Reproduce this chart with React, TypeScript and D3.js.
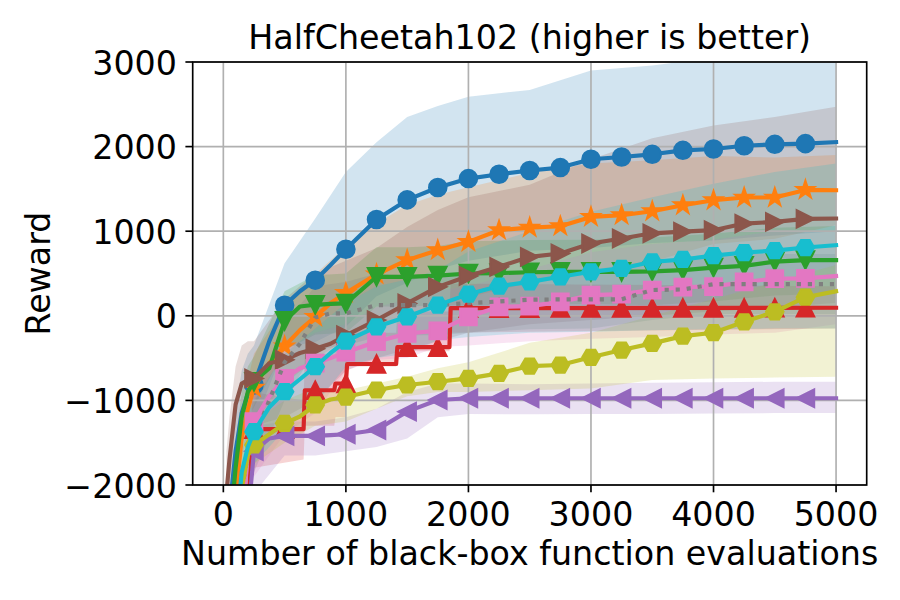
import React from 'react'
import * as d3 from 'd3'

// evaluation grid shared by most series
const evals = [25, 50, 100, 150, 200, 250, 375, 500, 625, 750, 875, 1000, 1250, 1500, 1750, 2000, 2250, 2500, 2750, 3000, 3250, 3500, 3750, 4000, 4250, 4500, 4750, 5000]

const blueMean = [-3000, -2300, -1600, -1150, -920, -818, -300, 125, 290, 421, 600, 787, 1138, 1370, 1516, 1622, 1673, 1718, 1752, 1850, 1877, 1909, 1956, 1972, 2010, 2027, 2035, 2053]
const orangeMean = [-3500, -3000, -2150, -1450, -1100, -850, -560, -360, -170, -12, 150, 270, 490, 658, 776, 874, 1012, 1043, 1059, 1169, 1189, 1236, 1307, 1366, 1398, 1398, 1488, 1484]
const greenMean = [-3200, -2600, -1800, -1200, -900, -780, -620, -60, 110, 130, 140, 146, 461, 461, 475, 500, 505, 515, 520, 520, 520, 525, 540, 570, 590, 640, 658, 658]
const purpleMean = [-4500, -4200, -3600, -3000, -2400, -1600, -1450, -1420, -1420, -1420, -1410, -1400, -1350, -1133, -995, -975, -975, -975, -975, -975, -975, -975, -975, -975, -975, -975, -975, -975]
const brownMean = [-2100, -1700, -1050, -800, -760, -740, -560, -520, -440, -390, -330, -230, -51, 146, 342, 470, 579, 697, 737, 855, 914, 975, 995, 1012, 1090, 1110, 1145, 1150]
const pinkMean = [-4000, -3600, -3000, -2500, -1600, -1250, -950, -740, -620, -560, -500, -430, -307, -208, -177, -12, 106, 114, 165, 244, 256, 303, 340, 345, 400, 440, 442, 470]
const grayMean = [-4000, -3600, -2800, -2050, -1650, -1450, -1000, -550, -330, -20, 28, 28, 126, 126, 126, 150, 170, 190, 194, 194, 194, 305, 311, 374, 374, 374, 374, 374]
const oliveMean = [-4000, -3600, -3000, -2050, -1650, -1527, -1400, -1271, -1190, -1054, -990, -960, -877, -818, -779, -740, -680, -594, -582, -491, -405, -326, -240, -200, -71, 47, 220, 290]
const cyanMean = [-3800, -3400, -2600, -1850, -1550, -1370, -1080, -897, -750, -602, -440, -300, -130, -12, 126, 256, 351, 401, 461, 520, 560, 638, 666, 712, 748, 770, 807, 835]

// red is a step curve, it gets its own grid
const redEvals = [180, 215, 240, 655, 665, 905, 915, 1000, 1010, 1410, 1420, 1845, 1855, 5000]
const redMean = [-2600, -2000, -1340, -1340, -880, -880, -800, -800, -570, -570, -370, -370, 90, 95]
const redLow = [-3300, -2700, -1800, -1700, -1300, -1300, -1200, -1200, -600, -600, -420, -420, -200, -150]
const redHigh = [-2000, -1500, -900, -1000, -450, -450, -400, -400, -200, -200, 50, 50, 380, 350]

// shaded bands
const bandEvals = [25, 50, 100, 150, 200, 250, 500, 750, 1000, 1250, 1500, 1750, 2000, 2500, 3000, 3500, 4000, 4500, 5000]
const blueLow = [-3200, -2800, -2100, -1650, -1390, -1290, -370, -310, -130, 230, 390, 550, 650, 770, 800, 860, 890, 950, 1000]
const blueHigh = [-2300, -1800, -1100, -650, -450, -350, 620, 1150, 1700, 2050, 2350, 2480, 2590, 2670, 2900, 2960, 3050, 3100, 3100]
const orangeLow = [-3800, -3300, -2500, -1750, -1450, -1250, -810, -510, -280, -110, 10, 130, 220, 390, 540, 640, 850, 910, 1070]
const orangeHigh = [-3000, -2600, -1800, -1150, -750, -450, 90, 490, 820, 1090, 1310, 1430, 1520, 1690, 1800, 1840, 1890, 1870, 1900]
const greenLow = [-3600, -2900, -2100, -1500, -1200, -1080, -410, -220, -200, 110, 110, 125, 120, 135, 140, 125, 170, 240, 260]
const greenHigh = [-2800, -2300, -1500, -900, -600, -480, 290, 480, 500, 810, 810, 825, 880, 895, 900, 925, 970, 1040, 1060]
const purpleLow = [-4800, -4500, -3900, -3300, -2700, -2100, -1650, -1650, -1600, -1550, -1450, -1200, -1160, -1165, -1160, -1160, -1155, -1150, -1150]
const purpleHigh = [-4200, -3800, -3200, -2600, -2000, -1300, -1250, -1250, -1200, -1100, -900, -800, -800, -810, -800, -790, -785, -780, -780]
const brownLow = [-2600, -2200, -1500, -1250, -1200, -1300, -1200, -1000, -650, -500, -400, -300, -200, -100, -50, 0, 50, 100, 150]
const brownHigh = [-1600, -1200, -600, -350, -300, -300, 200, 500, 650, 800, 1050, 1250, 1400, 1550, 1850, 2100, 2250, 2350, 2470]
const pinkLow = [-4400, -4000, -3400, -2900, -2000, -1900, -1400, -1150, -650, -520, -500, -370, -350, -300, -270, -250, -220, -200, -100]
const pinkHigh = [-3600, -3200, -2600, -2100, -1200, -900, -400, -200, -100, 100, 200, 300, 350, 550, 750, 850, 900, 1000, 1000]
const grayLow = [-4400, -4000, -3200, -2450, -2050, -1850, -1000, -400, -350, -250, -230, -230, -200, -160, -150, -50, 20, 20, 20]
const grayHigh = [-3600, -3200, -2400, -1650, -1250, -1050, -100, 350, 400, 500, 480, 480, 500, 540, 540, 650, 730, 730, 730]
const oliveLow = [-4400, -4000, -3400, -2450, -2050, -1750, -1500, -1300, -1250, -1100, -950, -900, -900, -880, -860, -760, -740, -730, -720]
const oliveHigh = [-3600, -3200, -2600, -1650, -1250, -1250, -1000, -850, -880, -800, -720, -620, -550, -320, -200, 0, 200, 400, 600]
const cyanLow = [-4200, -3800, -3000, -2250, -1950, -1750, -1350, -1050, -600, -500, -450, -290, -250, -200, -190, -170, -160, -150, -150]
const cyanHigh = [-3400, -3000, -2200, -1450, -1150, -1000, -450, -150, 150, 350, 430, 540, 760, 1000, 1230, 1400, 1560, 1700, 1800]

const markerEvals = [250, 500, 750, 1000, 1250, 1500, 1750, 2000, 2250, 2500, 2750, 3000, 3250, 3500, 3750, 4000, 4250, 4500, 4750]
const xTicks = [0, 1000, 2000, 3000, 4000, 5000]
const yTicks = [-2000, -1000, 0, 1000, 2000, 3000]

type Series = {
  color: string
  marker: string | null
  xs: number[]
  mean: number[]
  bx: number[]
  lo: number[]
  hi: number[]
  dotted?: boolean
}

const series: Series[] = [
  { color: '#1f77b4', marker: 'o', xs: evals, mean: blueMean, bx: bandEvals, lo: blueLow, hi: blueHigh },
  { color: '#ff7f0e', marker: '*', xs: evals, mean: orangeMean, bx: bandEvals, lo: orangeLow, hi: orangeHigh },
  { color: '#2ca02c', marker: 'v', xs: evals, mean: greenMean, bx: bandEvals, lo: greenLow, hi: greenHigh },
  { color: '#d62728', marker: '^', xs: redEvals, mean: redMean, bx: redEvals, lo: redLow, hi: redHigh },
  { color: '#9467bd', marker: '<', xs: evals, mean: purpleMean, bx: bandEvals, lo: purpleLow, hi: purpleHigh },
  { color: '#8c564b', marker: '>', xs: evals, mean: brownMean, bx: bandEvals, lo: brownLow, hi: brownHigh },
  { color: '#e377c2', marker: 's', xs: evals, mean: pinkMean, bx: bandEvals, lo: pinkLow, hi: pinkHigh },
  { color: '#7f7f7f', marker: null, xs: evals, mean: grayMean, bx: bandEvals, lo: grayLow, hi: grayHigh, dotted: true },
  { color: '#bcbd22', marker: 'H', xs: evals, mean: oliveMean, bx: bandEvals, lo: oliveLow, hi: oliveHigh },
  { color: '#17becf', marker: 'H', xs: evals, mean: cyanMean, bx: bandEvals, lo: cyanLow, hi: cyanHigh },
]

const MS = 17.5 // marker size in px
const LW = 4.17 // line width (2pt)

const markerPath = (kind: string): string => {
  const r = MS / 2
  switch (kind) {
    case '*': {
      const R = r * 1.05
      const pts = d3.range(10).map((i) => {
        const a = -Math.PI / 2 + (i * Math.PI) / 5
        const rr = i % 2 === 0 ? R : R * 0.381966
        return [rr * Math.cos(a), rr * Math.sin(a)]
      })
      return 'M' + pts.map((p) => p.join(',')).join('L') + 'Z'
    }
    case '^':
      return `M0,${-r}L${r},${r}L${-r},${r}Z`
    case 'v':
      return `M0,${r}L${r},${-r}L${-r},${-r}Z`
    case '<':
      return `M${-r},0L${r},${-r}L${r},${r}Z`
    case '>':
      return `M${r},0L${-r},${-r}L${-r},${r}Z`
    case 's': {
      const h = r * 0.95
      return `M${-h},${-h}H${h}V${h}H${-h}Z`
    }
    case 'H': {
      const pts = d3.range(6).map((i) => {
        const a = (i * Math.PI) / 3
        return [r * Math.cos(a), r * Math.sin(a)]
      })
      return 'M' + pts.map((p) => p.join(',')).join('L') + 'Z'
    }
    default:
      return ''
  }
}

const fmt = (v: number) => (v < 0 ? '\u2212' : '') + Math.abs(v)

export default function App() {
  const left = 192.7
  const right = 866.7
  const top = 62
  const bottom = 485

  const x = d3.scaleLinear().domain([-250, 5250]).range([left, right])
  const y = d3.scaleLinear().domain([-2000, 3000]).range([bottom, top])

  const makeLine = (xs: number[], ys: number[]) =>
    d3
      .line<number>()
      .x((_, i) => x(xs[i]))
      .y((d) => y(d))(ys) ?? ''

  const makeArea = (xs: number[], lo: number[], hi: number[]) =>
    d3
      .area<number>()
      .x((_, i) => x(xs[i]))
      .y0((_, i) => y(lo[i]))
      .y1((d) => y(d))(hi) ?? ''

  const font = 'DejaVu Sans'
  const fs = 33.3

  return (
    <svg
      width={900}
      height={600}
      style={{ position: 'absolute', left: 0, top: 0 }}
      fontFamily={font}
    >
      <defs>
        <clipPath id="plot-area">
          <rect x={left} y={top} width={right - left} height={bottom - top} />
        </clipPath>
      </defs>
      <rect width={900} height={600} fill="#ffffff" />

      {/* shaded bands */}
      <g clipPath="url(#plot-area)">
        {series.map((s, i) => (
          <path key={i} d={makeArea(s.bx, s.lo, s.hi)} fill={s.color} fillOpacity={0.2} />
        ))}
      </g>

      {/* grid */}
      <g stroke="#b0b0b0" strokeWidth={1.67}>
        {xTicks.map((t) => (
          <line key={'gx' + t} x1={x(t)} x2={x(t)} y1={top} y2={bottom} />
        ))}
        {yTicks.map((t) => (
          <line key={'gy' + t} x1={left} x2={right} y1={y(t)} y2={y(t)} />
        ))}
      </g>

      {/* lines and markers */}
      <g clipPath="url(#plot-area)">
        {series.map((s, i) => {
          const interp = d3.scaleLinear().domain(s.xs).range(s.mean)
          return (
            <g key={i}>
              <path
                d={makeLine(s.xs, s.mean)}
                fill="none"
                stroke={s.color}
                strokeWidth={LW}
                strokeLinejoin="round"
                strokeLinecap={s.dotted ? 'butt' : 'square'}
                strokeDasharray={s.dotted ? '4.17 6.88' : undefined}
              />
              {s.marker &&
                markerEvals.map((m) => {
                  const cx = x(m)
                  const cy = y(interp(m))
                  return s.marker === 'o' ? (
                    <circle
                      key={m}
                      cx={cx}
                      cy={cy}
                      r={MS / 2}
                      fill={s.color}
                      stroke={s.color}
                      strokeWidth={2.08}
                    />
                  ) : (
                    <path
                      key={m}
                      transform={`translate(${cx},${cy})`}
                      d={markerPath(s.marker as string)}
                      fill={s.color}
                      stroke={s.color}
                      strokeWidth={2.08}
                    />
                  )
                })}
            </g>
          )
        })}
      </g>

      {/* spines */}
      <rect
        x={left}
        y={top}
        width={right - left}
        height={bottom - top}
        fill="none"
        stroke="#000"
        strokeWidth={1.67}
      />

      {/* x ticks */}
      {xTicks.map((t) => (
        <g key={'xt' + t}>
          <line x1={x(t)} x2={x(t)} y1={bottom} y2={bottom + 7.3} stroke="#000" strokeWidth={1.67} />
          <text x={x(t)} y={526} textAnchor="middle" fontSize={fs} fill="#000">
            {fmt(t)}
          </text>
        </g>
      ))}

      {/* y ticks */}
      {yTicks.map((t) => (
        <g key={'yt' + t}>
          <line x1={left - 7.3} x2={left} y1={y(t)} y2={y(t)} stroke="#000" strokeWidth={1.67} />
          <text x={177} y={y(t) + 12.5} textAnchor="end" fontSize={fs} fill="#000">
            {fmt(t)}
          </text>
        </g>
      ))}

      <text x={(left + right) / 2} y={48.5} textAnchor="middle" fontSize={fs} fill="#000">
        HalfCheetah102 (higher is better)
      </text>
      <text x={(left + right) / 2} y={565} textAnchor="middle" fontSize={fs} fill="#000">
        Number of black-box function evaluations
      </text>
      <text
        transform={`translate(50,${(top + bottom) / 2}) rotate(-90)`}
        textAnchor="middle"
        fontSize={fs}
        fill="#000"
      >
        Reward
      </text>
    </svg>
  )
}
